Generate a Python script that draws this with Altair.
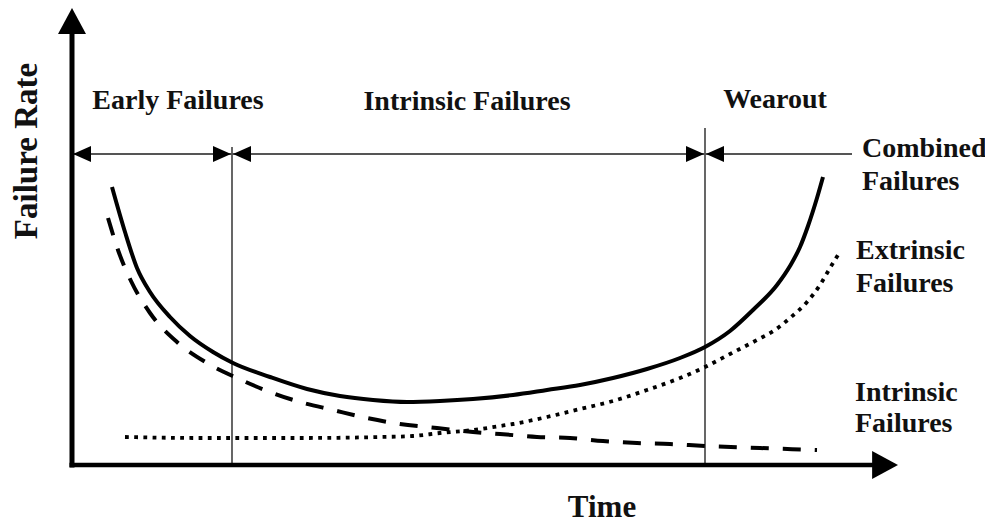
import altair as alt
import pandas as pd

# ---- curve data (time, failure rate), origin at the axis corner ----
combined_t = [40, 53, 65, 78, 98, 118, 141, 161, 198, 235, 268, 301, 335, 368, 401, 441,
              475, 508, 541, 575, 608, 633, 658, 681, 705, 718, 728, 736, 745, 751]
combined_r = [278, 233, 197, 173, 148, 129, 113, 102, 88, 76, 69, 65, 63, 64, 66, 70,
              75, 80, 87, 96, 107, 118, 134, 155, 180, 199, 218, 239, 267, 288]

intrinsic_t = [36, 46, 59, 78, 105, 135, 165, 198, 228, 261, 295, 328, 365, 401, 428,
               465, 498, 531, 565, 598, 633, 688, 745]
intrinsic_r = [247, 215, 184, 152, 123, 102, 87, 73, 63, 55, 47, 41, 37, 33, 31,
               28, 27, 24, 22, 21, 19, 17, 15]

extrinsic_t = [53, 128, 228, 308, 341, 368, 401, 428, 441, 475, 508, 541, 575, 608, 633, 658, 685,
               703, 718, 735, 748, 758, 766]
extrinsic_r = [28, 27, 27, 28, 29, 32, 35, 39, 41, 48, 56, 64, 75, 87, 98, 111, 125,
               135, 147, 163, 180, 197, 210]

# ---- phase boundaries and annotation ----
phase_bounds_t = [160, 633]
phase_bounds_top = [318, 337]
span_line_t = [0, 780]
span_line_r = 311

left_heads_t = [1, 161, 634]
right_heads_t = [159, 632]

phase_labels = ["Early Failures", "Intrinsic Failures", "Wearout"]
phase_label_t = [106, 395, 703]
phase_label_r = [356, 355, 357]

curve_labels = ["Combined", "Failures", "Extrinsic", "Failures", "Intrinsic", "Failures"]
curve_label_t = [790, 790, 784, 784, 783, 783]
curve_label_r = [308, 275, 206, 173, 64, 33]

x_title = "Time"
y_title = "Failure Rate"

XS = alt.Scale(domain=[-64, 913], nice=False, zero=False)
YS = alt.Scale(domain=[-62, 457], nice=False, zero=False)


def X(f="t"):
    return alt.X(f"{f}:Q", scale=XS, axis=None)


def Y(f="r"):
    return alt.Y(f"{f}:Q", scale=YS, axis=None)


def curve(ts, rs, **kw):
    df = pd.DataFrame({"t": ts, "r": rs})
    return alt.Chart(df).mark_line(color="black", interpolate="monotone", strokeCap="butt", **kw).encode(
        x=X(), y=Y())


solid = curve(combined_t, combined_r, strokeWidth=4)
dashed = curve(intrinsic_t, intrinsic_r, strokeWidth=4, strokeDash=[18, 14])
dotted = curve(extrinsic_t, extrinsic_r, strokeWidth=3.8, strokeDash=[3.8, 5.4])

vlines = alt.Chart(pd.DataFrame({"t": phase_bounds_t, "r": [0, 0], "r2": phase_bounds_top})).mark_rule(
    color="black", strokeWidth=1.2).encode(x=X(), y=Y(), y2="r2:Q")

span = alt.Chart(pd.DataFrame({"t": [span_line_t[0]], "t2": [span_line_t[1]], "r": [span_line_r]})).mark_rule(
    color="#555555", strokeWidth=2).encode(x=X(), x2="t2:Q", y=Y())

left_heads = alt.Chart(pd.DataFrame({"t": left_heads_t, "r": [span_line_r] * len(left_heads_t)})).mark_point(
    shape="M0,0L2,-0.9L2,0.9Z", filled=True, color="black", opacity=1, size=324, strokeWidth=0).encode(x=X(), y=Y())
right_heads = alt.Chart(pd.DataFrame({"t": right_heads_t, "r": [span_line_r] * len(right_heads_t)})).mark_point(
    shape="M0,0L-2,-0.9L-2,0.9Z", filled=True, color="black", opacity=1, size=324, strokeWidth=0).encode(x=X(), y=Y())

x_axis = alt.Chart(pd.DataFrame({"t": [-2.5], "t2": [805], "r": [0]})).mark_rule(
    color="black", strokeWidth=4.5).encode(x=X(), x2="t2:Q", y=Y())
y_axis = alt.Chart(pd.DataFrame({"t": [0], "r": [-2.5], "r2": [432]})).mark_rule(
    color="black", strokeWidth=5).encode(x=X(), y=Y(), y2="r2:Q")

up_head = alt.Chart(pd.DataFrame({"t": [0], "r": [457]})).mark_point(
    shape="M0,0L-1,1.85L1,1.85Z", filled=True, color="black", opacity=1, size=784, strokeWidth=0).encode(x=X(), y=Y())
right_head = alt.Chart(pd.DataFrame({"t": [826], "r": [0]})).mark_point(
    shape="M0,0L-1.85,-1L-1.85,1Z", filled=True, color="black", opacity=1, size=784, strokeWidth=0).encode(x=X(), y=Y())

FONT = "Liberation Serif"

phase_text = alt.Chart(pd.DataFrame({"t": phase_label_t, "r": phase_label_r, "s": phase_labels})).mark_text(
    font=FONT, fontWeight="bold", fontSize=28, align="center", baseline="alphabetic",
    color="#111111").encode(x=X(), y=Y(), text="s:N")

curve_text = alt.Chart(pd.DataFrame({"t": curve_label_t, "r": curve_label_r, "s": curve_labels})).mark_text(
    font=FONT, fontWeight="bold", fontSize=28, align="left", baseline="alphabetic",
    color="#111111").encode(x=X(), y=Y(), text="s:N")

xt = alt.Chart(pd.DataFrame({"t": [530], "r": [-52], "s": [x_title]})).mark_text(
    font=FONT, fontWeight="bold", fontSize=31, align="center", baseline="alphabetic", color="#111111").encode(
    x=X(), y=Y(), text="s:N")
yt = alt.Chart(pd.DataFrame({"t": [-35], "r": [314], "s": [y_title]})).mark_text(
    font=FONT, fontWeight="bold", fontSize=33, align="center", baseline="alphabetic", angle=270,
    color="#111111").encode(x=X(), y=Y(), text="s:N")

chart = alt.layer(
    vlines, span, left_heads, right_heads, dotted, dashed, solid,
    x_axis, y_axis, up_head, right_head, phase_text, curve_text, xt, yt
).properties(
    width=977, height=519, padding=0, autosize=alt.AutoSizeParams(type="none")
).configure_view(stroke=None)

chart.save("out.html", embed_options={"renderer": "svg", "actions": False})
